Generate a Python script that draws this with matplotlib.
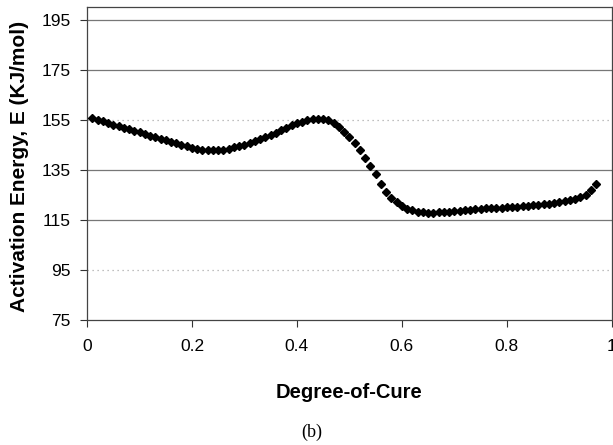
import matplotlib
matplotlib.use('Agg')
import matplotlib.pyplot as plt

# Degree-of-cure and activation energy
cure = [round(0.01 * i, 2) for i in range(1, 98)]
energy = [
    155.5, 155.0, 154.4, 153.8, 153.0, 152.4, 151.8, 151.2, 150.6, 150.0,
    149.3, 148.6, 148.0, 147.4, 146.8, 146.2, 145.6, 145.0, 144.4, 143.9,
    143.4, 143.1, 142.9, 142.8, 142.9, 143.1, 143.5, 144.0, 144.5, 145.1,
    145.8, 146.5, 147.3, 148.1, 149.0, 149.9, 150.9, 151.8, 152.7, 153.5,
    154.2, 154.7, 155.1, 155.3, 155.2, 154.7, 153.7, 152.2, 150.3, 148.1,
    145.6, 142.8, 139.8, 136.7, 133.3, 129.5, 126.3, 123.8, 122.1, 120.6,
    119.5, 118.8, 118.3, 118.0, 117.9, 117.9, 118.0, 118.1, 118.3, 118.5,
    118.7, 118.9, 119.1, 119.3, 119.5, 119.6, 119.7, 119.8, 119.9, 120.0,
    120.1, 120.2, 120.4, 120.6, 120.8, 121.0, 121.2, 121.5, 121.8, 122.1,
    122.5, 123.0, 123.5, 124.1, 125.0, 126.8, 129.3,
]
x_ticks = [0, 0.2, 0.4, 0.6, 0.8, 1]
x_tick_labels = ['0', '0.2', '0.4', '0.6', '0.8', '1']
y_ticks = [75, 95, 115, 135, 155, 175, 195]

plt.rcParams['font.family'] = ['Liberation Sans', 'DejaVu Sans']

fig = plt.figure(figsize=(6.13, 4.45), dpi=100)
ax = fig.add_axes([0.142, 0.281, 0.856, 0.703])

ax.plot(cure, energy, linestyle='none', marker='D', markersize=4.2,
        color='black', zorder=3)

ax.set_xlim(0, 1)
ax.set_ylim(75, 200)
ax.set_xticks(x_ticks)
ax.set_xticklabels(x_tick_labels)
ax.set_yticks(y_ticks)
ax.tick_params(direction='out', length=5, width=0.8, labelsize=12.5,
               colors='#333333', labelcolor='black')
ax.tick_params(axis='x', pad=9)
ax.tick_params(axis='y', pad=7)

# horizontal gridlines, some of them faint in the scan
ax.yaxis.grid(True, color='#777777', linewidth=0.9)
for val, gl in zip(y_ticks, ax.get_ygridlines()):
    if val in (95, 155):
        gl.set_linestyle((0, (1, 3)))
        gl.set_color('#aaaaaa')
    if val == 75:
        gl.set_visible(False)

for side in ['left', 'bottom', 'top', 'right']:
    ax.spines[side].set_color('#444444')
    ax.spines[side].set_linewidth(0.9)

ax.set_xlabel('Degree-of-Cure', fontsize=14.5, fontweight='bold')
ax.xaxis.set_label_coords(0.5, -0.2)
ax.set_ylabel('Activation Energy, E (KJ/mol)', fontsize=15,
              fontweight='bold')
ax.yaxis.set_label_coords(-0.11, 0.49)

fig.text(0.509, 0.029, '(b)', family='Liberation Serif', fontsize=13,
         ha='center', va='center')

fig.savefig('out.png', dpi=100)
